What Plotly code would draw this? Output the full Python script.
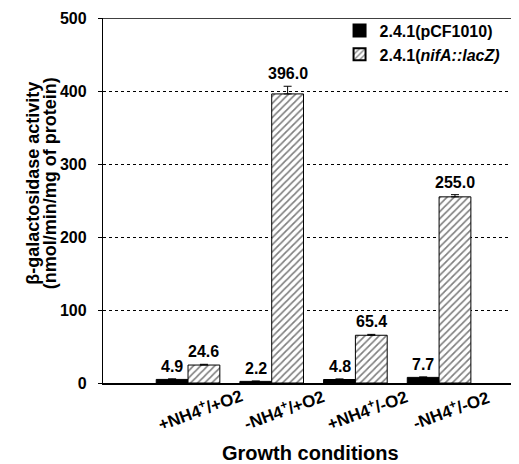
import plotly.graph_objects as go

categories = ["+NH4<sup>+</sup>/+O2", "-NH4<sup>+</sup>/+O2", "+NH4<sup>+</sup>/-O2", "-NH4<sup>+</sup>/-O2"]
series_names = ["2.4.1(pCF1010)", "2.4.1(<i>nifA::lacZ)</i>"]
control_values = [4.9, 2.2, 4.8, 7.7]
control_errors = [0.8, 0.5, 0.8, 0.6]
fusion_values = [24.6, 396.0, 65.4, 255.0]
fusion_errors = [1.0, 10.5, 1.2, 3.0]
y_ticks = [0, 100, 200, 300, 400, 500]

FONT = "Liberation Sans, Arial, sans-serif"
W = 0.38
idx = list(range(len(categories)))
x_ctrl = [i - W / 2 for i in idx]
x_fus = [i + W / 2 for i in idx]

fig = go.Figure()
fig.add_trace(go.Bar(
    x=x_ctrl, y=control_values, width=W, name=series_names[0],
    marker=dict(color="black", line=dict(color="black", width=1)),
    error_y=dict(type="data", array=control_errors, arrayminus=[0] * 4, symmetric=False,
                 color="black", thickness=1, width=4),
))
fig.add_trace(go.Bar(
    x=x_fus, y=fusion_values, width=W, name=series_names[1],
    marker=dict(color="white", line=dict(color="black", width=1),
                pattern=dict(shape="/", fgcolor="black", bgcolor="white", size=5, solidity=0.33)),
    error_y=dict(type="data", array=fusion_errors, arrayminus=[0] * 4, symmetric=False,
                 color="black", thickness=1, width=4),
))

lab_x = x_ctrl + x_fus
lab_y = [v + e for v, e in zip(control_values, control_errors)] + [v + e for v, e in zip(fusion_values, fusion_errors)]
lab_t = [f"{v:.1f}" for v in control_values + fusion_values]
for x, y, t in zip(lab_x, lab_y, lab_t):
    fig.add_annotation(x=x, y=y, xref="x", yref="y", text=t, showarrow=False,
                       xanchor="center", yanchor="bottom", yshift=2,
                       font=dict(family=FONT, size=16, color="black", weight="bold"))

for i, c in enumerate(categories):
    fig.add_annotation(x=i, y=-0.072, xref="x", yref="paper", text=c, showarrow=False,
                       textangle=-20, xshift=12, xanchor="center", yanchor="middle",
                       font=dict(family=FONT, size=17, color="black", weight="bold"))

fig.add_annotation(x=0.5, y=-0.192, xref="paper", yref="paper", text="Growth conditions",
                   showarrow=False, xanchor="center", yanchor="middle",
                   font=dict(family=FONT, size=20, color="black", weight="bold"))
fig.add_annotation(x=-0.169, y=0.548, xref="paper", yref="paper", text="β-galactosidase activity",
                   showarrow=False, textangle=-90, xanchor="center", yanchor="middle",
                   font=dict(family=FONT, size=18, color="black", weight="bold"))
fig.add_annotation(x=-0.127, y=0.548, xref="paper", yref="paper", text="(nmol/min/mg of protein)",
                   showarrow=False, textangle=-90, xanchor="center", yanchor="middle",
                   font=dict(family=FONT, size=18, color="black", weight="bold"))

fig.add_shape(type="line", xref="paper", yref="y", x0=0, x1=1, y0=500, y1=500,
              line=dict(color="black", width=1.3))

fig.update_layout(
    width=511, height=456,
    margin=dict(l=95, r=1, t=10, b=81),
    paper_bgcolor="white", plot_bgcolor="white",
    barmode="overlay",
    font=dict(family=FONT, color="black"),
    legend=dict(x=0.57, y=1.012, xanchor="left", yanchor="top", bgcolor="rgba(0,0,0,0)",
                font=dict(family=FONT, size=16, color="black", weight="bold"),
                tracegroupgap=0, itemsizing="constant"),
    xaxis=dict(range=[-1.016, 3.943], showticklabels=False, showgrid=False, zeroline=False,
               showline=True, linecolor="black", linewidth=1.5, ticks=""),
    yaxis=dict(range=[0, 500], tickvals=y_ticks, showgrid=True, gridcolor="black",
               griddash="dot", gridwidth=1, zeroline=False, showline=True, linecolor="black",
               linewidth=1.3, ticks="outside", ticklen=4, tickcolor="black",
               ticklabelstandoff=8,
               tickfont=dict(family=FONT, size=16, color="black", weight="bold")),
)

fig.write_html("out.html")
